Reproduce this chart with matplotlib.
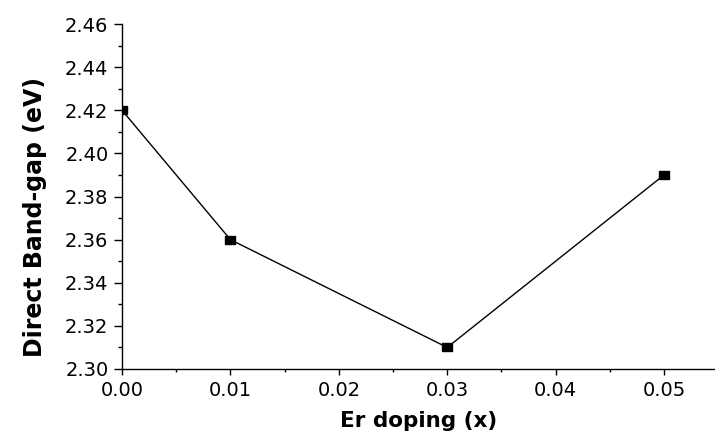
import matplotlib
matplotlib.use("Agg")
import matplotlib.pyplot as plt
from matplotlib.ticker import MultipleLocator, FormatStrFormatter

# Er doping level vs. direct band gap
er_doping = [0.00, 0.01, 0.03, 0.05]
band_gap = [2.42, 2.36, 2.31, 2.39]

x_ticks = [0.00, 0.01, 0.02, 0.03, 0.04, 0.05]
y_ticks = [2.30, 2.32, 2.34, 2.36, 2.38, 2.40, 2.42, 2.44, 2.46]

plt.rcParams['font.family'] = ['DejaVu Sans']

fig = plt.figure(figsize=(7.15, 4.34), dpi=100)
ax = fig.add_axes([122 / 715, 65 / 434, 593 / 715, 345 / 434])

# slightly wide rectangle marker, like the original export
rect = [(-1.35, -1), (1.35, -1), (1.35, 1), (-1.35, 1), (-1.35, -1)]
ax.plot(er_doping, band_gap, color='black', linewidth=1.0,
        marker=rect, markersize=7.5, markerfacecolor='black',
        markeredgecolor='black')

ax.set_xlim(0, 0.0547)
ax.set_ylim(2.30, 2.46)
ax.set_xticks(x_ticks)
ax.set_yticks(y_ticks)
ax.xaxis.set_minor_locator(MultipleLocator(0.005))
ax.yaxis.set_minor_locator(MultipleLocator(0.01))
ax.xaxis.set_major_formatter(FormatStrFormatter('%.2f'))
ax.yaxis.set_major_formatter(FormatStrFormatter('%.2f'))

for side in ['top', 'right']:
    ax.spines[side].set_visible(False)
for side in ['left', 'bottom']:
    ax.spines[side].set_linewidth(1.0)

ax.tick_params(axis='x', which='major', direction='out', length=4.5, width=1.0,
               labelsize=14, pad=4)
ax.tick_params(axis='x', which='minor', direction='out', length=2.5, width=1.0)
ax.tick_params(axis='y', which='major', direction='out', length=5.8, width=1.0,
               labelsize=14, pad=4)
ax.tick_params(axis='y', which='minor', direction='out', length=3, width=1.0)

# reference crops this label at the bottom edge; keep it just inside
ax.set_xlabel('Er doping (x)', fontsize=15.5, fontweight='bold', labelpad=8)
ax.set_ylabel('Direct Band-gap (eV)', fontsize=17, fontweight='bold')
ax.yaxis.set_label_coords(-0.126, 0.44)

fig.savefig('out.png', dpi=100)
plt.close(fig)
